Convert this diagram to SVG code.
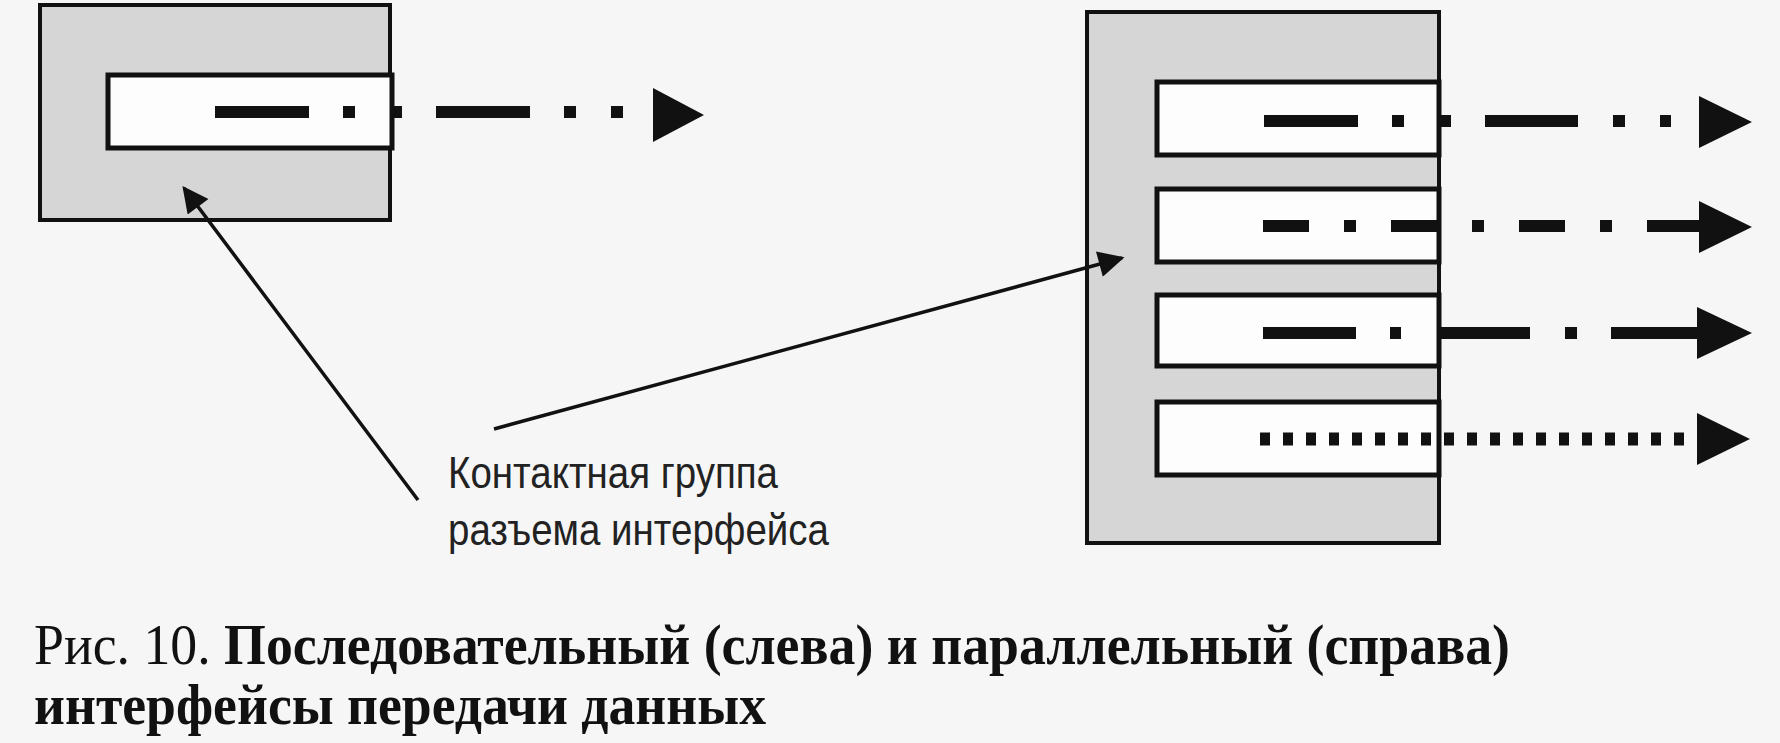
<svg xmlns="http://www.w3.org/2000/svg" width="1780" height="743" viewBox="0 0 1780 743">
<style>
.outer{fill:#d6d6d6;stroke:#111;stroke-width:4}
.inner{fill:#fdfdfd;stroke:#111;stroke-width:5}
.d{fill:#111}
.lead{stroke:#111;stroke-width:3.5;fill:none}
.lbl{font-family:"Liberation Sans",Arial,sans-serif;font-size:44px;fill:#222}
.cap{font-family:"Liberation Serif","Times New Roman",serif;font-size:56px;fill:#111}
</style>
<defs>
<marker id="ah" viewBox="0 0 10 10" refX="9" refY="5" markerWidth="30" markerHeight="26" markerUnits="userSpaceOnUse" orient="auto"><path d="M0,0 L10,5 L0,10 z" fill="#111"/></marker>
</defs>
<rect width="1780" height="743" fill="#f6f6f6"/>
<g id="serial">
<rect class="outer" x="40" y="5" width="350" height="215"/>
<rect class="inner" x="108" y="75" width="284" height="73"/>
</g>
<g id="parallel">
<rect class="outer" x="1087" y="12" width="352" height="531"/>
<rect class="inner" x="1157" y="82" width="282" height="73"/>
<rect class="inner" x="1157" y="189" width="282" height="73"/>
<rect class="inner" x="1157" y="295" width="282" height="71"/>
<rect class="inner" x="1157" y="402" width="282" height="73"/>
</g>
<g id="connectors">
<g class="d">
<rect x="215" y="106" width="94" height="12"/><rect x="343" y="106" width="12" height="12"/><rect x="390" y="106" width="12" height="12"/><rect x="436" y="106" width="94" height="12"/><rect x="564" y="106" width="12" height="12"/><rect x="611" y="106" width="12" height="12"/>
<path d="M653,88 L704,115 L653,142 z"/>
<rect x="1264" y="115" width="94" height="12"/><rect x="1392" y="115" width="12" height="12"/><rect x="1440" y="115" width="11" height="12"/><rect x="1485" y="115" width="93" height="12"/><rect x="1613" y="115" width="12" height="12"/><rect x="1660" y="115" width="11" height="12"/>
<path d="M1699,96 L1752,122 L1699,148 z"/>
<rect x="1263" y="220" width="46" height="12"/><rect x="1344" y="220" width="12" height="12"/><rect x="1391" y="220" width="49" height="12"/><rect x="1472" y="220" width="12" height="12"/><rect x="1519" y="220" width="46" height="12"/><rect x="1600" y="220" width="12" height="12"/><rect x="1647" y="220" width="52" height="12"/>
<path d="M1699,201 L1752,227 L1699,253 z"/>
<rect x="1263" y="327" width="93" height="12"/><rect x="1390" y="327" width="11" height="12"/><rect x="1439" y="327" width="91" height="12"/><rect x="1565" y="327" width="12" height="12"/><rect x="1611" y="327" width="90" height="12"/>
<path d="M1697,307 L1752,333 L1697,359 z"/>
<path d="M1697,413 L1750,439 L1697,465 z"/>
</g>
<line x1="1260" y1="439" x2="1697" y2="439" stroke="#111" stroke-width="13" stroke-dasharray="10 13"/>
<line class="lead" x1="418" y1="500" x2="184" y2="188" marker-end="url(#ah)"/>
<line class="lead" x1="494" y1="429" x2="1122" y2="258" marker-end="url(#ah)"/>
</g>
<g id="label">
<text class="lbl" x="448" y="488" textLength="330" lengthAdjust="spacingAndGlyphs">Контактная группа</text>
<text class="lbl" x="448" y="545" textLength="381" lengthAdjust="spacingAndGlyphs">разъема интерфейса</text>
</g>
<g id="caption">
<text class="cap" x="34" y="664" textLength="1476" lengthAdjust="spacingAndGlyphs">Рис. 10. <tspan font-weight="bold">Последовательный (слева) и параллельный (справа)</tspan></text>
<text class="cap" x="34" y="724" font-weight="bold" textLength="732" lengthAdjust="spacingAndGlyphs">интерфейсы передачи данных</text>
</g>
</svg>
